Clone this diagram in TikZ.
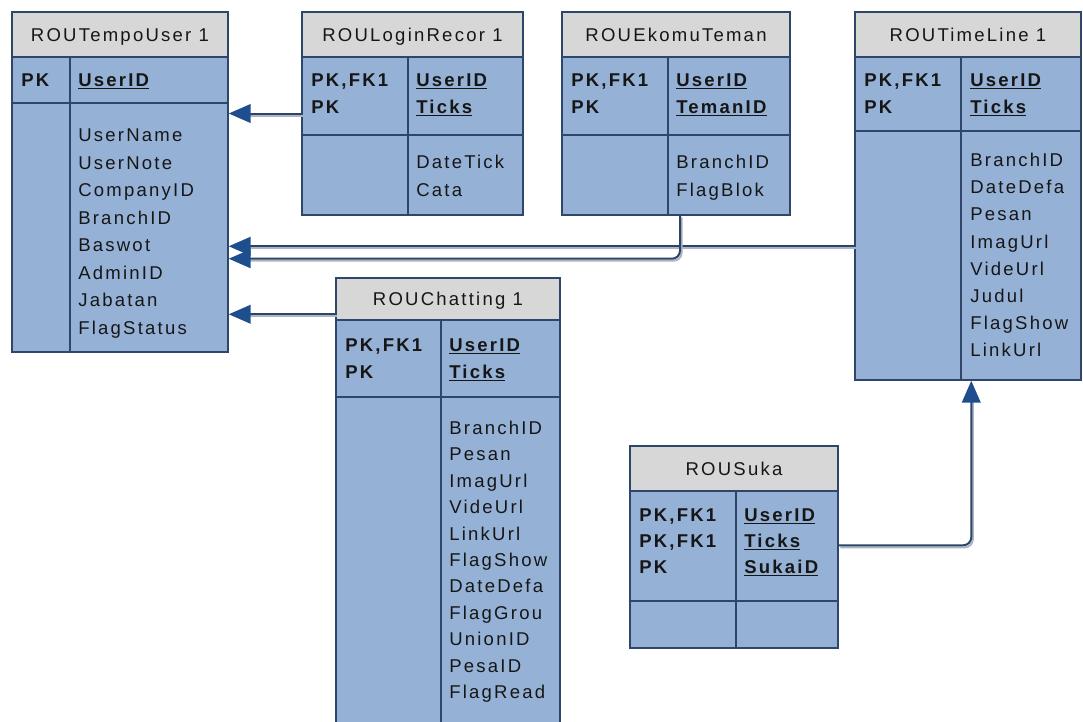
\documentclass[tikz,border=0pt]{standalone}
\usepackage{fontspec}
\setmainfont{Liberation Sans}[LetterSpace=12]
\usetikzlibrary{arrows.meta,fit,calc}

\definecolor{bodyc}{RGB}{149,178,214}
\definecolor{headc}{RGB}{215,215,215}
\definecolor{edgec}{RGB}{46,70,105}
\definecolor{linec}{RGB}{44,68,104}
\definecolor{arrowc}{RGB}{30,78,142}
\definecolor{shadowc}{RGB}{170,180,196}
\definecolor{textc}{RGB}{22,22,22}

% one text node per row: prefix, x, first baseline, row step, items, style
\newcommand\tblrows[6]{%
  \foreach \t [count=\i] in {#5} {\node[#6] (#1-\i) at (#2,{#3+(\i-1)*#4}) {\t};}}

\tikzset{
  tbody/.style={draw=edgec, fill=bodyc, line width=1.1pt, inner sep=0pt},
  thead/.style={draw=edgec, fill=headc, line width=1.1pt, inner sep=0pt},
  rule/.style={draw=edgec, line width=1.1pt},
  txt/.style={inner sep=0pt, text=textc, font=\fontsize{13.9pt}{16pt}\selectfont},
  ttitle/.style={txt, anchor=base},
  attr/.style={txt, anchor=base west},
  keyc/.style={attr, font=\fontsize{13.9pt}{16pt}\selectfont\bfseries},
  conn/.style={draw=linec, line width=1.5pt,
    -{Triangle[length=16.5pt, width=14pt, fill=arrowc, color=arrowc]},
    preaction={draw=shadowc, line width=1.5pt, -, shorten >=12pt,
      transform canvas={shift={(1.2pt,-1.5pt)}}}},
}

\begin{document}
\begin{tikzpicture}[x=0.75pt, y=-0.75pt]
\useasboundingbox (0,0) rectangle (1083,722);
\clip (0,0) rectangle (1083,722);
\fill[white] (0,0) rectangle (1083,722);

% ROUTempoUser 1
\node[tbody, fit={(12,12)(228,352)}] (t1) {};
\node[thead, fit={(12,12)(228,57)}] (t1h) {};
\node[ttitle] (t1t) at (120,41) {ROUTempoUser 1};
\draw[rule] (12,103) -- (228,103) (70,57) -- (70,352);
\tblrows{t1k}{21}{86.5}{27}{PK}{keyc}
\tblrows{t1p}{78}{86.5}{27}{\underline{UserID}}{keyc}
\tblrows{t1a}{78}{141.5}{27.5}{UserName,UserNote,CompanyID,BranchID,Baswot,AdminID,Jabatan,FlagStatus}{attr}

% ROULoginRecor 1
\node[tbody, fit={(302,12)(523,215)}] (t2) {};
\node[thead, fit={(302,12)(523,57)}] (t2h) {};
\node[ttitle] (t2t) at (412.5,41) {ROULoginRecor 1};
\draw[rule] (302,135) -- (523,135) (408,57) -- (408,215);
\tblrows{t2k}{311}{86.5}{27}{{PK,FK1},PK}{keyc}
\tblrows{t2p}{416}{86.5}{27}{\underline{UserID},\underline{Ticks}}{keyc}
\tblrows{t2a}{416}{168.5}{27.5}{DateTick,Cata}{attr}

% ROUEkomuTeman
\node[tbody, fit={(562,12)(790,215)}] (t3) {};
\node[thead, fit={(562,12)(790,57)}] (t3h) {};
\node[ttitle] (t3t) at (676,41) {ROUEkomuTeman};
\draw[rule] (562,135) -- (790,135) (668,57) -- (668,215);
\tblrows{t3k}{571}{86.5}{27}{{PK,FK1},PK}{keyc}
\tblrows{t3p}{676}{86.5}{27}{\underline{UserID},\underline{TemanID}}{keyc}
\tblrows{t3a}{676}{168.5}{27.5}{BranchID,FlagBlok}{attr}

% ROUTimeLine 1
\node[tbody, fit={(855,12)(1081,380)}] (t4) {};
\node[thead, fit={(855,12)(1081,57)}] (t4h) {};
\node[ttitle] (t4t) at (968,41) {ROUTimeLine 1};
\draw[rule] (855,131) -- (1081,131) (961,57) -- (961,380);
\tblrows{t4k}{864}{86.5}{27}{{PK,FK1},PK}{keyc}
\tblrows{t4p}{970}{86.5}{27}{\underline{UserID},\underline{Ticks}}{keyc}
\tblrows{t4a}{970}{166.5}{27.2}{BranchID,DateDefa,Pesan,ImagUrl,VideUrl,Judul,FlagShow,LinkUrl}{attr}

% ROUChatting 1
\node[tbody, fit={(336,278)(560,740)}] (t5) {};
\node[thead, fit={(336,278)(560,320)}] (t5h) {};
\node[ttitle] (t5t) at (448,305.5) {ROUChatting 1};
\draw[rule] (336,397) -- (560,397) (441,320) -- (441,740);
\tblrows{t5k}{345}{351.5}{27}{{PK,FK1},PK}{keyc}
\tblrows{t5p}{449}{351.5}{27}{\underline{UserID},\underline{Ticks}}{keyc}
\tblrows{t5a}{449}{434.5}{26.4}{BranchID,Pesan,ImagUrl,VideUrl,LinkUrl,FlagShow,DateDefa,FlagGrou,UnionID,PesaID,FlagRead}{attr}

% ROUSuka
\node[tbody, fit={(630,446)(838,648)}] (t6) {};
\node[thead, fit={(630,446)(838,491)}] (t6h) {};
\node[ttitle] (t6t) at (734,475) {ROUSuka};
\draw[rule] (630,601) -- (838,601) (736,491) -- (736,648);
\tblrows{t6k}{639}{521.5}{26}{{PK,FK1},{PK,FK1},PK}{keyc}
\tblrows{t6p}{744}{521.5}{26}{\underline{UserID},\underline{Ticks},\underline{SukaiD}}{keyc}

% relationships (arrow at the referenced table)
\draw[conn] (t2.west) -- (t2.west -| t1.east);

\coordinate (c2) at ($(t4.north west)+(0,235)$);
\draw[conn] (c2) -- (c2 -| t1.east);

\coordinate (c3) at ($(t3.south)+(4,0)$);
\coordinate (c3b) at ($(c3)+(0,43)$);
\draw[conn, rounded corners=6pt] (c3) -- (c3b) -- (c3b -| t1.east);

\coordinate (c4) at ($(t5.north west)+(0,37)$);
\draw[conn] (c4) -- (c4 -| t1.east);

\coordinate (c5) at ($(t6.north east)+(0,100)$);
\coordinate (c5b) at ($(t4.south west)+(117,0)$);
\draw[conn, rounded corners=6pt] (c5) -- (c5 -| c5b) -- (c5b);
\end{tikzpicture}
\end{document}
